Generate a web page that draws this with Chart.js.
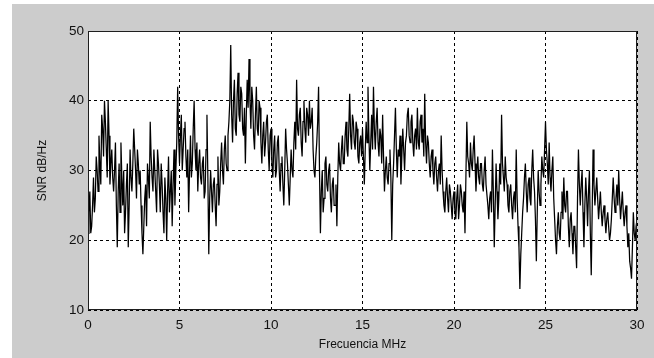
<!DOCTYPE html>
<html>
<head>
<meta charset="utf-8">
<script src="https://cdn.jsdelivr.net/npm/chart.js@4"></script>
<style>
  html, body { margin: 0; padding: 0; background: #fff; }
  #wrap { position: relative; width: 654px; height: 358px; }
  canvas { display: block; }
</style>
</head>
<body>
<div id="wrap"><canvas id="snrChart" width="654" height="358"></canvas></div>
<script>
// SNR values, one every 0.05 MHz
const snr0to5 = [
    21, 24, 27, 21, 22, 25, 29, 24, 26, 32, 30, 27, 35, 31, 28, 38, 36, 32, 40, 37,
    33, 29, 40, 35, 28, 31, 33, 29, 27, 30, 34, 25, 19, 27, 31, 24, 34, 29, 25, 30,
    21, 24, 28, 31, 19, 25, 33, 29, 27, 31, 36, 33, 30, 26, 33, 31, 28, 30, 25, 21,
    18, 22, 26, 28, 22, 31, 29, 26, 37, 32, 29, 27, 33, 30, 27, 24, 33, 31, 28, 24,
    31, 28, 24, 21, 29, 26, 20, 27, 32, 24, 27, 30, 22, 28, 33, 25, 30, 34, 42, 35];
const snr5to10 = [
    31, 35, 38, 30, 33, 36, 37, 32, 29, 33, 24, 30, 35, 29, 31, 36, 40, 33, 30, 34,
    27, 31, 33, 29, 28, 31, 32, 26, 27, 33, 38, 29, 18, 26, 30, 27, 24, 28, 29, 25,
    22, 28, 32, 25, 27, 31, 34, 30, 28, 33, 35, 31, 30, 35, 37, 40, 48, 38, 34, 40,
    43, 36, 35, 41, 44, 38, 37, 42, 41, 36, 35, 39, 31, 38, 43, 39, 46, 40, 36, 42,
    40, 35, 33, 38, 42, 36, 35, 40, 39, 34, 31, 35, 37, 32, 34, 37, 38, 33, 30, 35];
const snr10to15 = [
    36, 31, 29, 33, 35, 29, 30, 34, 35, 30, 27, 31, 32, 28, 25, 30, 36, 33, 31, 28,
    25, 29, 33, 30, 29, 34, 37, 33, 43, 36, 35, 38, 39, 34, 32, 37, 40, 36, 34, 39,
    38, 35, 40, 36, 37, 39, 33, 30, 29, 32, 34, 37, 42, 30, 21, 27, 30, 24, 26, 31,
    32, 28, 27, 30, 31, 26, 24, 28, 29, 25, 25, 28, 22, 29, 34, 31, 30, 33, 35, 31,
    31, 35, 37, 33, 32, 36, 41, 35, 33, 38, 37, 34, 33, 37, 36, 32, 31, 34, 35, 32];
const snr15to20 = [
    36, 32, 28, 33, 37, 34, 42, 35, 30, 34, 38, 33, 42, 36, 33, 37, 39, 34, 32, 36,
    35, 31, 38, 32, 27, 30, 32, 29, 28, 31, 33, 29, 20, 28, 31, 35, 39, 33, 29, 33,
    32, 35, 28, 32, 36, 33, 30, 34, 35, 38, 39, 35, 34, 37, 38, 34, 32, 35, 36, 33,
    39, 34, 33, 37, 38, 34, 36, 32, 41, 34, 31, 35, 34, 31, 29, 32, 33, 30, 28, 31,
    32, 29, 27, 30, 31, 28, 35, 30, 27, 25, 24, 27, 29, 26, 24, 28, 27, 25, 23, 26];
const snr20to25 = [
    27, 24, 23, 26, 28, 23, 25, 28, 27, 25, 24, 27, 21, 29, 37, 32, 31, 29, 34, 31,
    30, 33, 35, 31, 27, 30, 32, 29, 28, 31, 31, 28, 27, 30, 32, 28, 28, 25, 23, 26,
    27, 24, 33, 27, 19, 25, 31, 27, 23, 26, 31, 28, 38, 31, 29, 27, 32, 29, 28, 25,
    24, 27, 28, 25, 23, 26, 27, 24, 33, 26, 22, 19, 13, 18, 21, 24, 26, 29, 31, 27,
    24, 28, 29, 26, 25, 30, 33, 29, 27, 23, 17, 24, 30, 27, 25, 28, 32, 30, 29, 33];
const snr25to30 = [
    37, 33, 31, 28, 34, 29, 27, 30, 32, 26, 23, 20, 18, 22, 24, 21, 20, 24, 27, 23,
    29, 25, 24, 27, 27, 22, 19, 23, 24, 21, 18, 22, 22, 19, 16, 26, 33, 28, 25, 28,
    30, 24, 19, 25, 29, 26, 22, 27, 30, 21, 15, 24, 33, 28, 25, 27, 29, 26, 23, 25,
    27, 24, 22, 24, 25, 23, 21, 23, 24, 22, 20, 21, 23, 26, 29, 26, 24, 26, 28, 25,
    30, 26, 23, 25, 27, 24, 22, 24, 25, 22, 19, 21, 17, 16, 14.5, 19, 24, 21, 20, 22, 23];

const snrValues = [].concat(snr0to5, snr5to10, snr10to15, snr15to20, snr20to25, snr25to30);
const freqMHz = snrValues.map((_, i) => i / 20);

const xTicks = [0, 5, 10, 15, 20, 25, 30];
const yTicks = [10, 20, 30, 40, 50];

const fontFamily = 'Liberation Sans, Arial, sans-serif';

// gray figure background with the thin white strip on the left/top
const figureBackground = {
    id: 'figureBackground',
    beforeDraw(chart) {
        const ctx = chart.ctx;
        ctx.save();
        ctx.fillStyle = '#ffffff';
        ctx.fillRect(0, 0, chart.width, chart.height);
        ctx.fillStyle = '#cccccc';
        ctx.fillRect(12, 4, chart.width - 12, chart.height - 4);
        const a = chart.chartArea;
        ctx.fillStyle = '#ffffff';
        ctx.fillRect(a.left, a.top, a.right - a.left, a.bottom - a.top);
        ctx.restore();
    }
};

// closed axes box, like matlab
const axesBox = {
    id: 'axesBox',
    afterDraw(chart) {
        const ctx = chart.ctx;
        const a = chart.chartArea;
        ctx.save();
        ctx.strokeStyle = '#1e1e1e';
        ctx.lineWidth = 1;
        ctx.strokeRect(a.left + 0.5, a.top + 0.5, a.right - a.left - 1, a.bottom - a.top - 1);
        ctx.restore();
    }
};

const ctx = document.getElementById('snrChart').getContext('2d');
new Chart(ctx, {
    type: 'line',
    data: {
        datasets: [{
            data: freqMHz.map((f, i) => ({ x: f, y: snrValues[i] })),
            borderColor: '#000000',
            borderWidth: 1.25,
            pointRadius: 0,
            tension: 0,
            fill: false
        }]
    },
    options: {
        responsive: false,
        animation: false,
        layout: { padding: { left: 0, top: 31, right: 17, bottom: 0 } },
        plugins: {
            legend: { display: false },
            tooltip: { enabled: false }
        },
        scales: {
            x: {
                type: 'linear',
                min: 0,
                max: 30,
                afterFit: (scale) => { scale.height = 48; },
                afterBuildTicks: (scale) => { scale.ticks = xTicks.map(v => ({ value: v })); },
                ticks: {
                    color: '#111111',
                    padding: 7,
                    maxRotation: 0,
                    font: { family: fontFamily, size: 13.5 }
                },
                grid: {
                    color: '#000000',
                    lineWidth: 1,
                    drawTicks: false
                },
                border: { display: false, dash: [3, 3] },
                title: {
                    display: true,
                    text: 'Frecuencia MHz',
                    color: '#111111',
                    padding: { top: 0, bottom: 6 },
                    font: { family: fontFamily, size: 12 }
                }
            },
            y: {
                min: 10,
                max: 50,
                afterFit: (scale) => { scale.width = 88; },
                afterBuildTicks: (scale) => { scale.ticks = yTicks.map(v => ({ value: v })); },
                ticks: {
                    color: '#111111',
                    padding: 4,
                    font: { family: fontFamily, size: 13.5 }
                },
                grid: {
                    color: '#000000',
                    lineWidth: 1,
                    drawTicks: false
                },
                border: { display: false, dash: [3, 3] },
                title: {
                    display: true,
                    text: 'SNR dB/Hz',
                    color: '#111111',
                    padding: { top: 35, bottom: 0 },
                    font: { family: fontFamily, size: 12 }
                }
            }
        }
    },
    plugins: [figureBackground, axesBox]
});
</script>
</body>
</html>
